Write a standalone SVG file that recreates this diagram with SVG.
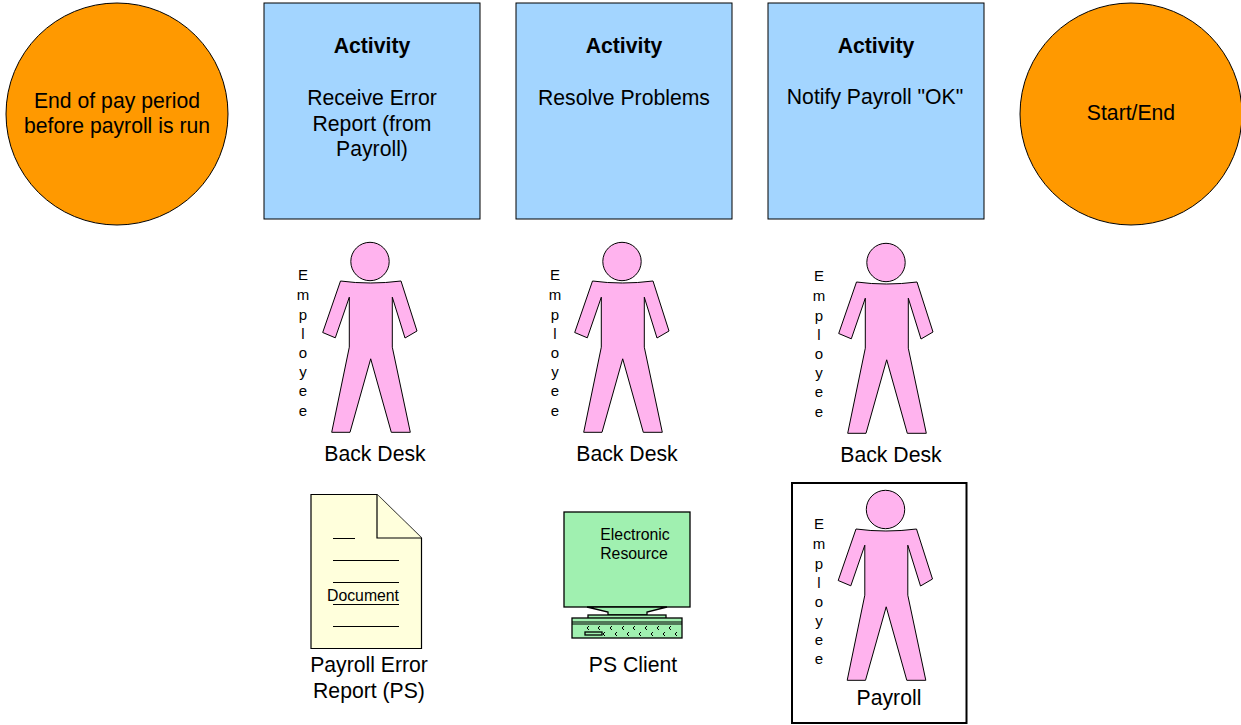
<svg xmlns="http://www.w3.org/2000/svg" width="1241" height="725" viewBox="0 0 1241 725">
<style>
text{font-family:"Liberation Sans",Arial,sans-serif;fill:#000;text-anchor:middle}
.l{font-size:21.2px}
.b{font-size:21.2px;font-weight:bold}
.m{font-size:15.8px}
.v{font-size:15px}
.s{stroke:#000;stroke-width:1}
.box{fill:#a3d5ff;stroke:#000;stroke-width:1}
.circ{fill:#ff9900;stroke:#000;stroke-width:1}
.skin{fill:#ffb3ee;stroke:#000;stroke-width:1;stroke-linejoin:miter}
.doc{fill:#ffffdc;stroke:#000;stroke-width:1.2}
.pc{fill:#a0f0b0;stroke:#000;stroke-width:1.3}
</style>
<defs>
<g id="person">
<circle class="skin" cx="0" cy="0" r="19.2"/>
<path class="skin" d="M-29.500 19.500Q0 23.500 31 19.500L47 69.500L35 76.500L22.300 35.700V85.700L40.300 170.800H21.300L0.700 97.300L-20 170.800H-38.300L-20.700 85.700V35.700L-34.700 76.300L-47.300 71Z"/>
</g>
</defs>
<g id="connectors"/>
<g id="start"><circle class="circ" cx="117" cy="114" r="111"/><text class="l" x="117" y="108">End of pay period</text><text class="l" x="117" y="133">before payroll is run</text></g>
<g id="activity1"><rect class="box" x="264" y="3" width="216" height="216"/><text class="b" x="372" y="53">Activity</text><text class="l" x="372" y="105">Receive Error</text><text class="l" x="372" y="131">Report (from</text><text class="l" x="372" y="156">Payroll)</text></g>
<g id="activity2"><rect class="box" x="516" y="3" width="216" height="216"/><text class="b" x="624" y="53">Activity</text><text class="l" x="624" y="105">Resolve Problems</text></g>
<g id="activity3"><rect class="box" x="768" y="3" width="216" height="216"/><text class="b" x="876" y="53">Activity</text><text class="l" x="875" y="104">Notify Payroll "OK"</text></g>
<g id="end"><circle class="circ" cx="1131" cy="114" r="111"/><text class="l" x="1131" y="120">Start/End</text></g>
<g id="person1"><use href="#person" x="370" y="261.500"/><text class="v" x="303" y="280">E</text><text class="v" x="303" y="300">m</text><text class="v" x="303" y="320">p</text><text class="v" x="303" y="339">l</text><text class="v" x="303" y="358">o</text><text class="v" x="303" y="377">y</text><text class="v" x="303" y="396">e</text><text class="v" x="303" y="416">e</text><text class="l" x="375" y="461">Back Desk</text></g>
<g id="person2"><use href="#person" x="622" y="261.500"/><text class="v" x="555" y="280">E</text><text class="v" x="555" y="300">m</text><text class="v" x="555" y="320">p</text><text class="v" x="555" y="339">l</text><text class="v" x="555" y="358">o</text><text class="v" x="555" y="377">y</text><text class="v" x="555" y="396">e</text><text class="v" x="555" y="416">e</text><text class="l" x="627" y="461">Back Desk</text></g>
<g id="person3"><use href="#person" x="886" y="262.500"/><text class="v" x="819" y="281">E</text><text class="v" x="819" y="301">m</text><text class="v" x="819" y="321">p</text><text class="v" x="819" y="340">l</text><text class="v" x="819" y="359">o</text><text class="v" x="819" y="378">y</text><text class="v" x="819" y="397">e</text><text class="v" x="819" y="417">e</text><text class="l" x="891" y="462">Back Desk</text></g>
<g id="document"><path class="doc" d="M311 494.500H377L421.500 538V648.500H311Z"/><path class="doc" d="M377 494.500V538H421.500"/><path class="s" fill="none" d="M333 538.500H355M333 560.500H399M333 582.500H399M333 604.500H399M333 626.500H399"/><text class="m" x="363" y="601">Document</text><text class="l" x="369" y="672">Payroll Error</text><text class="l" x="369" y="698">Report (PS)</text></g>
<g id="pcclient"><rect class="pc" x="564" y="512" width="126" height="95"/><path class="pc" d="M587 607H667L647 612V615H608V612Z"/><rect class="pc" x="588" y="615" width="78" height="3.500"/><rect class="pc" x="572" y="618" width="110" height="20"/><path class="s" fill="none" d="M572 622H682M572 624H682"/><rect class="pc" x="585" y="632" width="17" height="3"/><path fill="none" stroke="#000" stroke-width="1" d="M589 626L587 628L589 630M600 626L598 628L600 630M612 626L610 628L612 630M624 626L622 628L624 630M635 626L633 628L635 630M647 626L645 628L647 630M659 626L657 628L659 630M671 626L669 628L671 630M605 632L603 634L605 636M617 632L615 634L617 636M629 632L627 634L629 636M641 632L639 634L641 636M653 632L651 634L653 636M665 632L663 634L665 636M677 632L675 634L677 636"/><text class="m" x="635" y="540">Electronic</text><text class="m" x="634" y="559">Resource</text><text class="l" x="633" y="672">PS Client</text></g>
<g id="payroll"><rect x="792" y="483" width="174.500" height="240" fill="#fff" stroke="#000" stroke-width="2"/><use href="#person" x="885.500" y="509.500"/><text class="v" x="819" y="529">E</text><text class="v" x="819" y="549">m</text><text class="v" x="819" y="569">p</text><text class="v" x="819" y="588">l</text><text class="v" x="819" y="607">o</text><text class="v" x="819" y="626">y</text><text class="v" x="819" y="645">e</text><text class="v" x="819" y="664">e</text><text class="l" x="889" y="705">Payroll</text></g>
</svg>
